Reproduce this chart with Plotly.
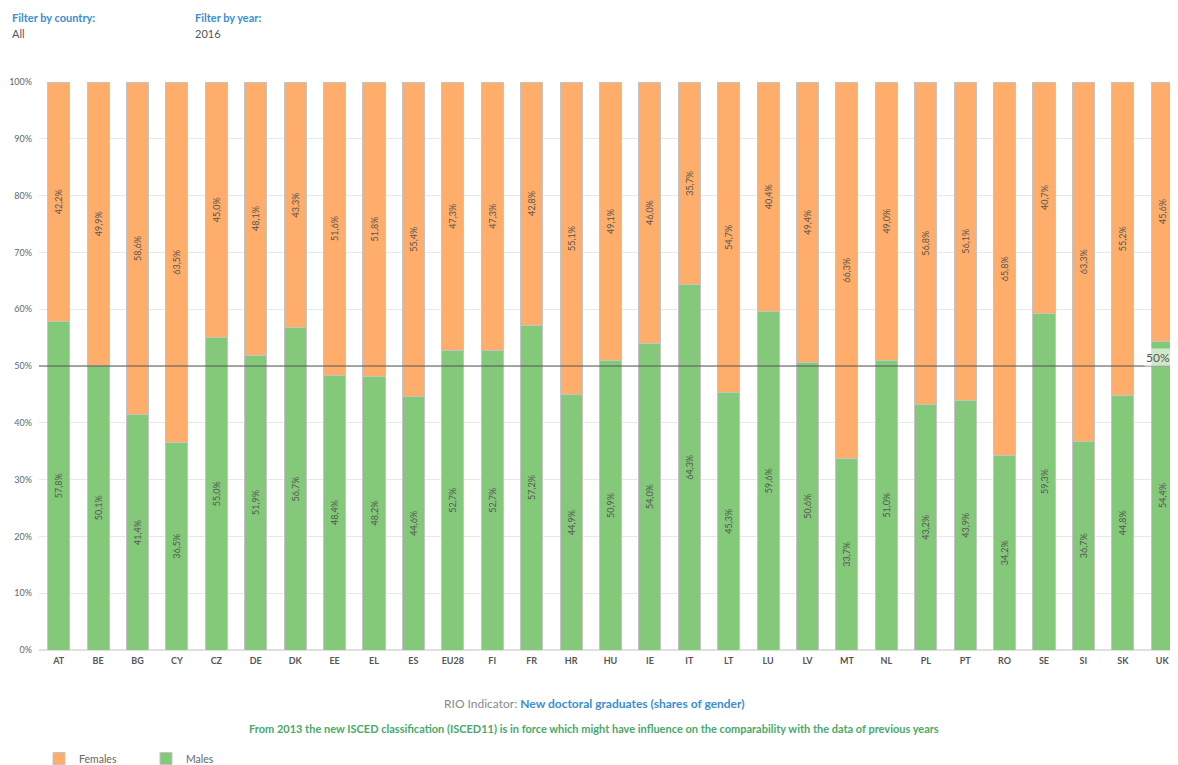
import plotly.graph_objects as go

countries = ["AT", "BE", "BG", "CY", "CZ", "DE", "DK", "EE", "EL", "ES", "EU28", "FI", "FR", "HR",
             "HU", "IE", "IT", "LT", "LU", "LV", "MT", "NL", "PL", "PT", "RO", "SE", "SI", "SK", "UK"]
males = [57.8, 50.1, 41.4, 36.5, 55.0, 51.9, 56.7, 48.4, 48.2, 44.6, 52.7, 52.7, 57.2, 44.9,
         50.9, 54.0, 64.3, 45.3, 59.6, 50.6, 33.7, 51.0, 43.2, 43.9, 34.2, 59.3, 36.7, 44.8, 54.4]
females = [42.2, 49.9, 58.6, 63.5, 45.0, 48.1, 43.3, 51.6, 51.8, 55.4, 47.3, 47.3, 42.8, 55.1,
           49.1, 46.0, 35.7, 54.7, 40.4, 49.4, 66.3, 49.0, 56.8, 56.1, 65.8, 40.7, 63.3, 55.2, 45.6]
y_ticks = [0, 10, 20, 30, 40, 50, 60, 70, 80, 90, 100]
y_tick_labels = [f"{v}%" for v in y_ticks]

FONT = "Lato"
GREEN = "#84c97a"
ORANGE = "#fead6a"
BLUE = "#3b8ed0"


def lbl(v):
    return f"{v:.1f}%".replace(".", ",")


fig = go.Figure()
fig.add_trace(go.Bar(
    x=countries, y=males, name="Males",
    marker=dict(color=GREEN, line=dict(color="#c4c4c4", width=1)),
    text=[lbl(v) for v in males], textposition="inside", insidetextanchor="middle",
    textangle=-90, textfont=dict(size=9, color="#555555", family=FONT),
    constraintext="none", width=0.56, hoverinfo="skip",
))
fig.add_trace(go.Bar(
    x=countries, y=females, name="Females",
    marker=dict(color=ORANGE, line=dict(color="#c4c4c4", width=1)),
    text=[lbl(v) for v in females], textposition="inside", insidetextanchor="middle",
    textangle=-90, textfont=dict(size=9, color="#555555", family=FONT),
    constraintext="none", width=0.56, hoverinfo="skip",
))

fig.add_shape(type="line", xref="paper", x0=0, x1=1, yref="y", y0=50, y1=50,
              line=dict(color="#555555", width=1))
fig.add_annotation(xref="paper", x=1.0, yref="y", y=50, text="50%", showarrow=False,
                   xanchor="right", yanchor="bottom", yshift=-1, xshift=-6,
                   font=dict(size=12, color="#555555", family=FONT),
                   bgcolor="rgba(255,255,255,0.6)", borderpad=1)

# header filters
fig.add_annotation(xref="paper", yref="paper", x=-0.0255, y=1.1142, text="<b>Filter by country:</b>",
                   showarrow=False, xanchor="left", yanchor="middle",
                   font=dict(size=11, color=BLUE, family=FONT))
fig.add_annotation(xref="paper", yref="paper", x=-0.0255, y=1.0861, text="All",
                   showarrow=False, xanchor="left", yanchor="middle",
                   font=dict(size=11, color="#555555", family=FONT))
fig.add_annotation(xref="paper", yref="paper", x=0.1352, y=1.1142, text="<b>Filter by year:</b>",
                   showarrow=False, xanchor="left", yanchor="middle",
                   font=dict(size=11, color=BLUE, family=FONT))
fig.add_annotation(xref="paper", yref="paper", x=0.1352, y=1.0861, text="2016",
                   showarrow=False, xanchor="left", yanchor="middle",
                   font=dict(size=11, color="#555555", family=FONT))

# bottom texts
fig.add_annotation(xref="paper", yref="paper", x=0.4873, y=-0.0949,
                   text="<span style='color:#8a8a8a'>RIO Indicator: </span><b>New doctoral graduates (shares of gender)</b>",
                   showarrow=False, xanchor="center", yanchor="middle",
                   font=dict(size=12, color=BLUE, family=FONT))
fig.add_annotation(xref="paper", yref="paper", x=0.4873, y=-0.1388,
                   text="<b>From 2013 the new ISCED classification (ISCED11) is in force which might have influence on the comparability with the data of previous years</b>",
                   showarrow=False, xanchor="center", yanchor="middle",
                   font=dict(size=11, color="#4aa86a", family=FONT))

fig.update_layout(
    width=1170, height=765,
    margin=dict(l=31, r=0, t=74, b=122),
    barmode="stack", bargap=0.44,
    plot_bgcolor="white", paper_bgcolor="white",
    font=dict(family=FONT, size=9, color="#666666"),
    legend=dict(orientation="h", x=0.0, y=-0.1916, xanchor="left", yanchor="middle",
                traceorder="reversed", font=dict(size=10.5, color="#666666", family=FONT),
                itemwidth=30, entrywidth=62),
    showlegend=True,
)
fig.update_xaxes(range=[-0.5, 28.4], tickfont=dict(size=9, color="#555555", family=FONT),
                 tickprefix="<b>", ticksuffix="</b>", showgrid=False, showline=False, ticks="",
                 ticklabelstandoff=4, automargin=False)
fig.update_yaxes(range=[0, 100], tickvals=y_ticks, ticktext=y_tick_labels,
                 tickfont=dict(size=9, color="#666666", family=FONT),
                 showgrid=True, gridcolor="#e8e8e8", zeroline=True, zerolinecolor="#e0e0e0",
                 ticks="", ticklabelstandoff=6, automargin=False)

fig.write_html("out.html")
